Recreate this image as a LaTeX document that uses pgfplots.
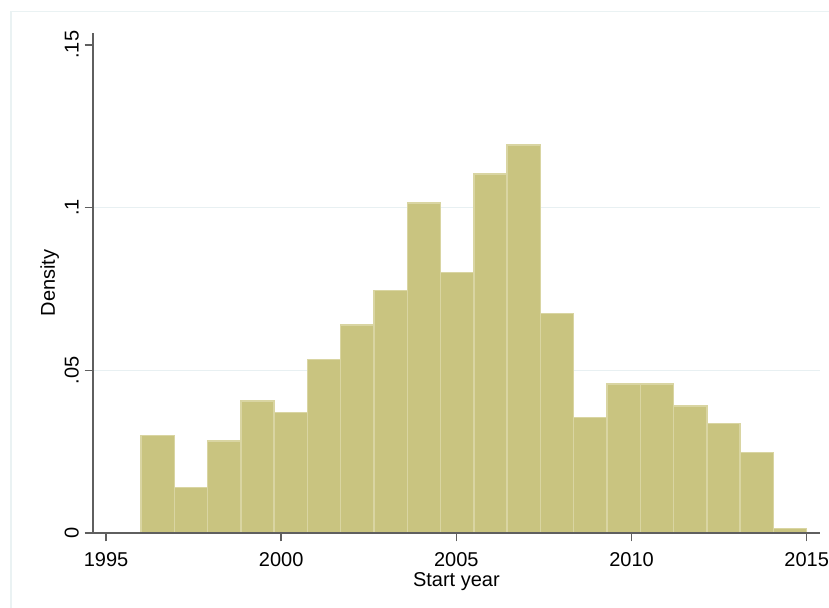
\documentclass[border=0pt]{standalone}
\usepackage{pgfplots}
\pgfplotsset{compat=1.18}
\usepackage{fontspec}
\setmainfont{Liberation Sans}
\definecolor{barfill}{RGB}{201,196,128}
\definecolor{baredge}{RGB}{217,213,162}
\definecolor{gridc}{RGB}{232,240,242}
\definecolor{framec}{RGB}{234,242,243}
\definecolor{axisc}{RGB}{95,95,95}
\begin{document}
\begin{tikzpicture}
\useasboundingbox (0,0) rectangle (414.5pt,304pt);
\draw[framec, line width=0.8pt] (5.5pt,-2pt) -- (5.5pt,298.25pt) -- (416pt,298.25pt);
\begin{axis}[
  at={(46.35pt,37.35pt)}, anchor=south west,
  scale only axis, width=363.65pt, height=250.3pt,
  xmin=1994.62, xmax=2015.38, ymin=0, ymax=0.1537,
  axis x line*=bottom, axis y line*=left,
  axis line style={axisc, line width=0.8pt, -},
  every tick/.style={axisc, line width=0.8pt},
  tick align=outside, major tick length=4pt,
  xtick={1995,2000,2005,2010,2015},
  xticklabels={1995,2000,2005,2010,2015},
  ytick={0,0.05,0.1,0.15},
  yticklabels={0,.05,.1,.15},
  minor tick num=0,
  font=\fontsize{10}{12}\selectfont,
  xticklabel style={anchor=base, inner sep=0pt},
  xticklabel shift=12.7pt,
  yticklabel style={rotate=90, anchor=south, inner sep=0pt},
  yticklabel shift=2.8pt,
  xlabel={Start year}, ylabel={Density},
  xlabel style={at={(axis description cs:0.5,-0.1067)}, anchor=base, inner sep=0pt},
  ylabel style={at={(axis description cs:-0.052,0.5)}, rotate=0, anchor=base, inner sep=0pt},
  axis on top,
  clip=false,
]
\addplot[gridc, line width=0.6pt, forget plot] coordinates {(1994.62,0.05) (2015.38,0.05)};
\addplot[gridc, line width=0.6pt, forget plot] coordinates {(1994.62,0.1) (2015.38,0.1)};
\addplot[ybar interval, fill=barfill, draw=baredge, line width=0.7pt] coordinates {
(1996,0.02998) (1996.95,0.0140) (1997.9,0.02835) (1998.85,0.04063) (1999.8,0.03716)
(2000.75,0.05344) (2001.7,0.06397) (2002.65,0.07451) (2003.6,0.10135) (2004.55,0.08004)
(2005.5,0.11026) (2006.45,0.11916) (2007.4,0.06757) (2008.35,0.03563) (2009.3,0.04585)
(2010.25,0.04585) (2011.2,0.0391) (2012.15,0.03378) (2013.1,0.02488) (2014.05,0.00154)
(2015,0)};
\end{axis}
\end{tikzpicture}
\end{document}
